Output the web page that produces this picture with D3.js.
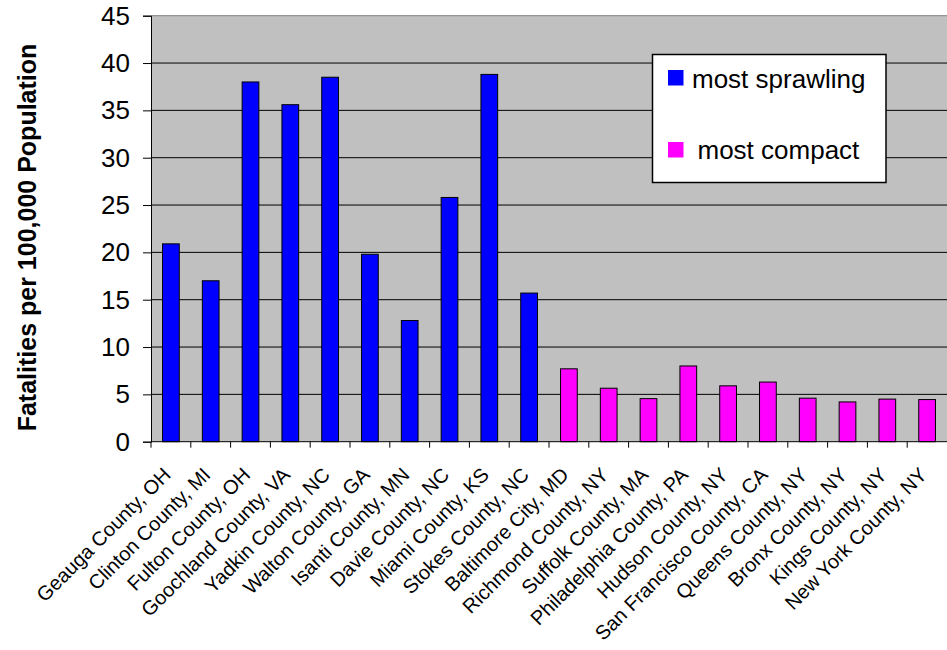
<!DOCTYPE html>
<html>
<head>
<meta charset="utf-8">
<script src="https://cdn.jsdelivr.net/npm/d3@7"></script>
<style>
  html, body { margin: 0; padding: 0; background: #fff; }
  svg { display: block; font-family: "Liberation Sans", Arial, sans-serif; }
</style>
</head>
<body>
<svg id="chart" width="947" height="650"></svg>
<script>
// ---- data ----
const sprawlingCounties = ["Geauga County, OH", "Clinton County, MI", "Fulton County, OH", "Goochland County, VA",
  "Yadkin County, NC", "Walton County, GA", "Isanti County, MN", "Davie County, NC", "Miami County, KS", "Stokes County, NC"];
const sprawlingValues = [20.9, 17.0, 38.0, 35.6, 38.5, 19.8, 12.8, 25.8, 38.8, 15.7];
const compactCounties = ["Baltimore City, MD", "Richmond County, NY", "Suffolk County, MA", "Philadelphia County, PA",
  "Hudson County, NY", "San Francisco County, CA", "Queens County, NY", "Bronx County, NY", "Kings County, NY", "New York County, NY"];
const compactValues = [7.7, 5.65, 4.55, 8.0, 5.9, 6.3, 4.6, 4.2, 4.5, 4.45];
const seriesNames = ["most sprawling", "most compact"];
const seriesColors = ["#0000FF", "#FF00FF"];
const yTicks = [0, 5, 10, 15, 20, 25, 30, 35, 40, 45];
const yTitle = "Fatalities per 100,000 Population";

const rows = sprawlingCounties.map((c, i) => ({ cat: c, v: sprawlingValues[i], s: 0 }))
  .concat(compactCounties.map((c, i) => ({ cat: c, v: compactValues[i], s: 1 })));

// ---- layout ----
const svg = d3.select("#chart");
const L = 151, R = 947, T = 15.7, B = 441.7;

const x = d3.scaleBand().domain(rows.map(d => d.cat)).range([L, R]).paddingInner(0.58).paddingOuter(0.29);
const y = d3.scaleLinear().domain([0, 45]).range([B, T]);

// plot background
svg.append("rect").attr("x", L).attr("y", T).attr("width", R - L + 2).attr("height", B - T).attr("fill", "#C0C0C0");

// gridlines
svg.append("g").selectAll("line").data(yTicks.filter(t => t > 0 && t < 45)).join("line")
  .attr("x1", L).attr("x2", R + 2).attr("y1", d => y(d)).attr("y2", d => y(d))
  .attr("stroke", "#000").attr("stroke-width", 1);

// plot top border
svg.append("line").attr("x1", L).attr("x2", R + 2).attr("y1", y(45)).attr("y2", y(45))
  .attr("stroke", "#808080").attr("stroke-width", 1);

// bars
svg.append("g").selectAll("rect").data(rows).join("rect")
  .attr("x", d => x(d.cat)).attr("width", x.bandwidth())
  .attr("y", d => y(d.v)).attr("height", d => y(0) - y(d.v))
  .attr("fill", d => seriesColors[d.s]).attr("stroke", "#000").attr("stroke-width", 1);

// y axis
const yAxis = svg.append("g").attr("transform", `translate(${L},0)`)
  .call(d3.axisLeft(y).tickValues(yTicks).tickSize(8).tickPadding(13).tickFormat(d3.format("d")));
yAxis.select(".domain").attr("stroke", "#000").attr("stroke-width", 1);
yAxis.selectAll(".tick line").attr("stroke", "#000");
yAxis.selectAll(".tick text").attr("font-size", 26).attr("fill", "#000")
  .attr("font-family", "'Liberation Sans', Arial, sans-serif");

// x axis baseline + ticks at category boundaries
svg.append("line").attr("x1", L).attr("x2", R + 2).attr("y1", B).attr("y2", B).attr("stroke", "#000").attr("stroke-width", 1);
const step = x.step();
svg.append("g").selectAll("line").data(rows.map((d, i) => i)).join("line")
  .attr("x1", i => L + i * step).attr("x2", i => L + i * step)
  .attr("y1", B).attr("y2", B + 6).attr("stroke", "#000");

// x labels
svg.append("g").selectAll("text").data(rows).join("text")
  .attr("transform", d => `translate(${x(d.cat) + x.bandwidth() / 2 + 1},476) rotate(-45)`)
  .attr("text-anchor", "end").attr("font-size", 20).attr("fill", "#000")
  .text(d => d.cat);

// y title
svg.append("text").attr("transform", "translate(36,237.5) rotate(-90)")
  .attr("text-anchor", "middle").attr("font-size", 25).attr("font-weight", "bold").attr("fill", "#000")
  .text(yTitle);

// legend
const lg = svg.append("g");
lg.append("rect").attr("x", 652.5).attr("y", 54.5).attr("width", 233.5).attr("height", 128)
  .attr("fill", "#fff").attr("stroke", "#000").attr("stroke-width", 1.5);
const legendItems = [
  { name: seriesNames[0], color: seriesColors[0], sy: 70, tx: 692, ty: 88 },
  { name: seriesNames[1], color: seriesColors[1], sy: 142, tx: 697.5, ty: 159 }
];
lg.selectAll("rect.sw").data(legendItems).join("rect").attr("class", "sw")
  .attr("x", 668).attr("y", d => d.sy).attr("width", 15.5).attr("height", 15.5).attr("fill", d => d.color);
lg.selectAll("text").data(legendItems).join("text")
  .attr("x", d => d.tx).attr("y", d => d.ty).attr("font-size", 26).attr("fill", "#000")
  .text(d => d.name);
</script>
</body>
</html>
